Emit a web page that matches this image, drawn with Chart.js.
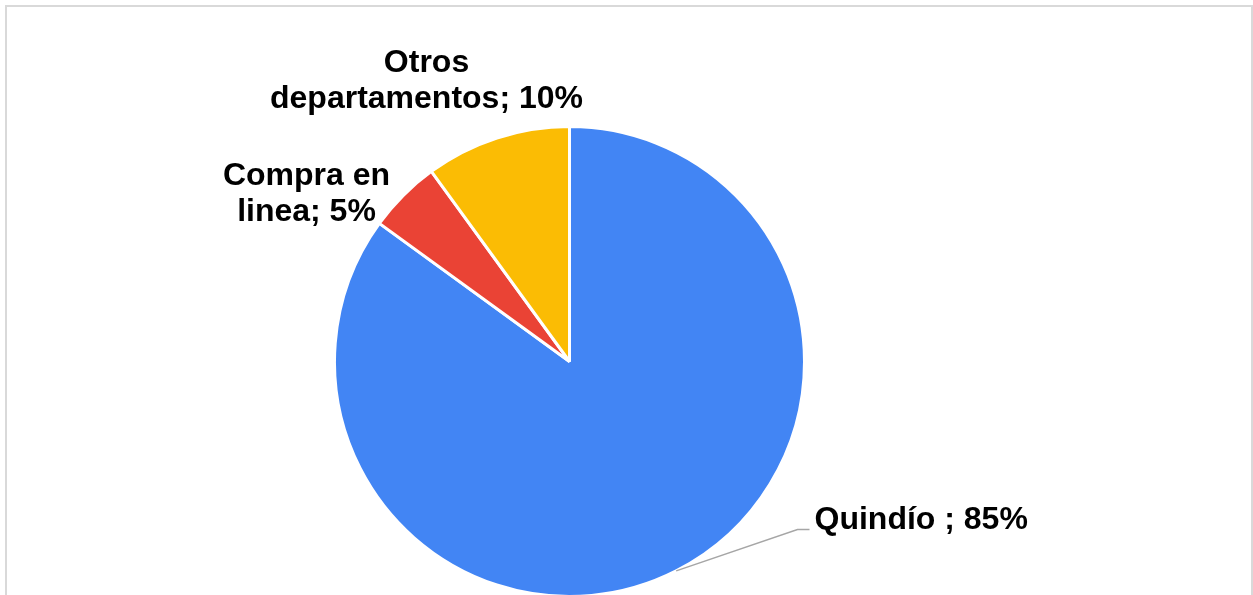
<!DOCTYPE html>
<html>
<head>
<meta charset="utf-8">
<script src="https://cdn.jsdelivr.net/npm/chart.js@4.4.1/dist/chart.umd.min.js"></script>
<style>
  html, body { margin: 0; padding: 0; background: #fff; overflow: hidden; }
  #wrap { position: relative; width: 1253px; height: 595px; overflow: hidden; }
  #frame { position: absolute; left: 5px; top: 5px; width: 1244px; height: 700px; border: 2px solid #d9d9d9; box-sizing: content-box; }
  #chart { position: absolute; left: 0; top: 0; }
</style>
</head>
<body>
<div id="wrap">
  <div id="frame"></div>
  <canvas id="chart" width="1253" height="600"></canvas>
</div>
<script>
// data
const categories = ['Quindío ', 'Compra en linea', 'Otros departamentos'];
const shares = [85, 5, 10];
const sliceColors = ['#4285F4', '#EA4335', '#FBBC04'];

// label layout, relative to the pie centre (px)
const labelWrap = [400, 180, 320];
const labelAnchor = [
  { dx: 245, dy: 167, align: 'left', leader: true },
  { dx: -263, dy: -177, align: 'center' },
  { dx: -143, dy: -290, align: 'center' }
];
const labelFont = 'bold 32px "Liberation Sans", Arial, sans-serif';
const lineGap = 36;

function wrapText(ctx, text, maxW) {
  const words = text.split(' ');
  const lines = [];
  let cur = '';
  words.forEach(w => {
    const test = cur ? cur + ' ' + w : w;
    if (cur && ctx.measureText(test).width > maxW) { lines.push(cur); cur = w; }
    else cur = test;
  });
  if (cur) lines.push(cur);
  return lines;
}

const pieLabels = {
  id: 'pieLabels',
  afterDatasetsDraw(chart) {
    const ctx = chart.ctx;
    const meta = chart.getDatasetMeta(0);
    ctx.save();
    ctx.font = labelFont;
    ctx.fillStyle = '#000';
    ctx.textBaseline = 'alphabetic';
    meta.data.forEach((arc, i) => {
      const p = arc.getProps(['x', 'y', 'startAngle', 'endAngle', 'outerRadius'], true);
      const a = labelAnchor[i];
      const tx = p.x + a.dx, ty = p.y + a.dy;
      if (a.leader) {
        const mid = (p.startAngle + p.endAngle) / 2;
        const sx = p.x + Math.cos(mid) * p.outerRadius;
        const sy = p.y + Math.sin(mid) * p.outerRadius;
        ctx.strokeStyle = '#a6a6a6';
        ctx.lineWidth = 1.5;
        ctx.beginPath();
        ctx.moveTo(sx, sy);
        ctx.lineTo(tx - 17, ty + 1);
        ctx.lineTo(tx - 5, ty + 1);
        ctx.stroke();
      }
      const text = categories[i] + '; ' + shares[i] + '%';
      const lines = wrapText(ctx, text, labelWrap[i]);
      ctx.textAlign = a.align;
      lines.forEach((ln, k) => ctx.fillText(ln, tx, ty + k * lineGap));
    });
    ctx.restore();
  }
};

new Chart(document.getElementById('chart'), {
  type: 'pie',
  data: {
    labels: categories,
    datasets: [{
      data: shares,
      backgroundColor: sliceColors,
      borderColor: '#ffffff',
      borderWidth: 3
    }]
  },
  options: {
    responsive: false,
    animation: false,
    layout: { padding: { top: 125, bottom: 2, left: 0, right: 114 } },
    plugins: { legend: { display: false }, tooltip: { enabled: false } }
  },
  plugins: [pieLabels]
});
</script>
</body>
</html>
